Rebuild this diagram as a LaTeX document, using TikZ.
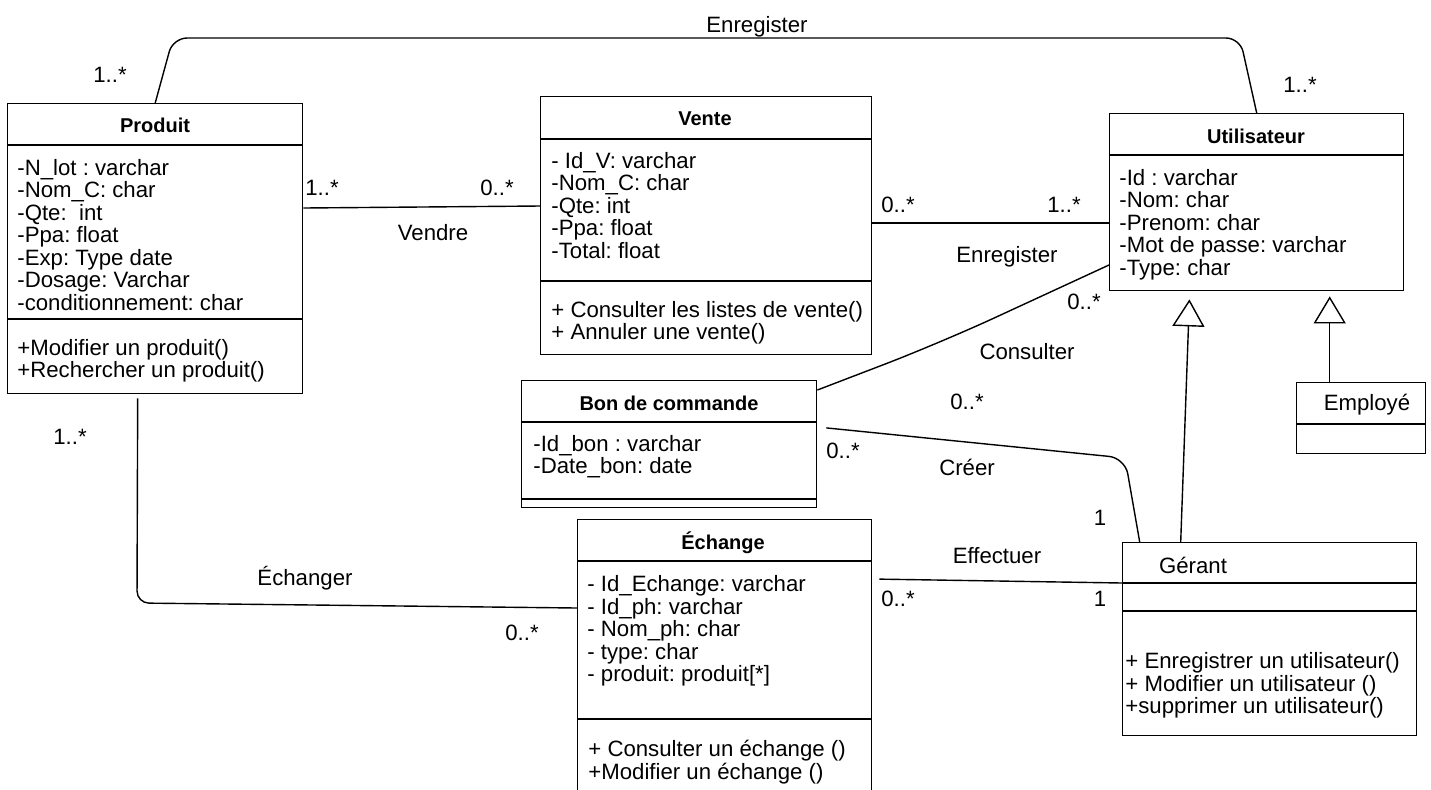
\documentclass[tikz,border=0pt]{standalone}
\usepackage{fontspec}
\setmainfont{Liberation Sans}
\usetikzlibrary{arrows.meta}

\newlength{\du}
\setlength{\du}{0.5pt}

\tikzset{
  classbox/.style={draw, rectangle, inner sep=0pt, anchor=north west, line width=1.4\du},
  classtitle/.style={font=\bfseries, inner sep=0pt},
  classname/.style={inner sep=0pt},
  members/.style={anchor=north west, align=left, inner sep=0pt},
  divider/.style={line width=1.4\du},
  assoc/.style={line width=1.4\du},
  multlabel/.style={inner sep=0pt},
  inherit/.style={line width=1.4\du, -{Triangle[open, length=13.5pt, width=16pt]}},
}

\begin{document}
\begin{tikzpicture}[font=\fontsize{11.1pt}{11.25pt}\selectfont\frenchspacing]
\pgftransformxscale{1.000000}
\pgftransformyscale{-1.000000}
\fill[white] (0\du,0\du) rectangle (1431\du,789\du);
\useasboundingbox (0\du,0\du) rectangle (1431\du,789\du);
% Produit
\node[classbox, minimum width=295\du, minimum height=290\du] (produit) at (7\du,103\du) {};
\node[classtitle] (produit-title) at (155\du,125\du) {Produit};
\draw[divider] (produit.west |- 0,145\du) -- (produit.east |- 0,145\du);
\draw[divider] (produit.west |- 0,319\du) -- (produit.east |- 0,319\du);
\node[members] (produit-attr) at (17\du,159\du) {-N\_lot : varchar\\-Nom\_C: char\\-Qte:\ \ int\\-Ppa: float\\-Exp: Type date\\-Dosage: Varchar\\-conditionnement: char};
\node[members] (produit-ops) at (17\du,339\du) {+Modifier un produit()\\+Rechercher un produit()};
% Vente
\node[classbox, minimum width=331\du, minimum height=258\du] (vente) at (540\du,96\du) {};
\node[classtitle] (vente-title) at (705\du,119\du) {Vente};
\draw[divider] (vente.west |- 0,139\du) -- (vente.east |- 0,139\du);
\draw[divider] (vente.west |- 0,281\du) -- (vente.east |- 0,281\du);
\node[members] (vente-attr) at (551\du,152\du) {- Id\_V: varchar\\-Nom\_C: char\\-Qte: int\\-Ppa: float\\-Total: float};
\node[members] (vente-ops) at (551\du,301\du) {+ Consulter les listes de vente()\\+ Annuler une vente()};
% Utilisateur
\node[classbox, minimum width=294\du, minimum height=177\du] (utilisateur) at (1109\du,113\du) {};
\node[classtitle] (utilisateur-title) at (1256\du,136\du) {Utilisateur};
\draw[divider] (utilisateur.west |- 0,155\du) -- (utilisateur.east |- 0,155\du);
\node[members] (utilisateur-attr) at (1119\du,169\du) {-Id : varchar\\-Nom: char\\-Prenom: char\\-Mot de passe: varchar\\-Type: char};
% Employe
\node[classbox, minimum width=129\du, minimum height=71\du] (employe) at (1296\du,382\du) {};
\node[classname] (employe-title) at (1367\du,405\du) {Employé};
\draw[divider] (employe.west |- 0,424\du) -- (employe.east |- 0,424\du);
% Bon de commande
\node[classbox, minimum width=295\du, minimum height=127\du] (boncmd) at (521\du,380\du) {};
\node[classtitle] (boncmd-title) at (669\du,403\du) {Bon de commande};
\draw[divider] (boncmd.west |- 0,422\du) -- (boncmd.east |- 0,422\du);
\draw[divider] (boncmd.west |- 0,499\du) -- (boncmd.east |- 0,499\du);
\node[members] (boncmd-attr) at (533\du,435\du) {-Id\_bon : varchar\\-Date\_bon: date};
% Echange
\node[classbox, minimum width=294\du, minimum height=290\du] (echange) at (577\du,519\du) {};
\node[classtitle] (echange-title) at (723\du,543\du) {Échange};
\draw[divider] (echange.west |- 0,561\du) -- (echange.east |- 0,561\du);
\draw[divider] (echange.west |- 0,719\du) -- (echange.east |- 0,719\du);
\node[members] (echange-attr) at (587\du,575\du) {- Id\_Echange: varchar\\- Id\_ph: varchar\\- Nom\_ph: char\\- type: char\\- produit: produit[*]};
\node[members] (echange-ops) at (588\du,740\du) {+ Consulter un échange ()\\+Modifier un échange ()};
% Gerant
\node[classbox, minimum width=294\du, minimum height=193\du] (gerant) at (1122\du,542\du) {};
\node[classname] (gerant-title) at (1193\du,565\du) {Gérant};
\draw[divider] (gerant.west |- 0,583\du) -- (gerant.east |- 0,583\du);
\draw[divider] (gerant.west |- 0,611\du) -- (gerant.east |- 0,611\du);
\node[members] (gerant-ops) at (1125\du,652\du) {+ Enregistrer un utilisateur()\\+ Modifier un utilisateur ()\\+supprimer un utilisateur()};
% associations
\draw[assoc, rounded corners=14\du] (produit.north) -- (173\du,38\du) -- (1240\du,38\du) -- (utilisateur.north);
\draw[assoc] (produit.east |- 0,208\du) -- (vente.west |- 0,206\du);
\draw[assoc] (vente.east |- 0,223\du) -- (utilisateur.west |- 0,223\du);
\draw[assoc, rounded corners=60\du] (boncmd.east |- 0,390\du) -- (940\du,343\du) -- (utilisateur.west |- 0,265\du);
\draw[assoc, shorten <=9\du, rounded corners=16\du] (boncmd.east |- 0,427\du) -- (1125\du,458\du) -- ([xshift=-130\du]gerant.north);
\draw[assoc, shorten <=7\du] (echange.east |- 0,579\du) -- (gerant.west |- 0,583\du);
\draw[assoc, shorten <=4\du, rounded corners=12\du] ([xshift=-17.5\du]produit.south) -- (137\du,603\du) -- (echange.west |- 0,608\du);
% generalisations
\draw[inherit, shorten >=8\du] ([xshift=-89\du]gerant.north) -- ([xshift=-67\du]utilisateur.south);
\draw[inherit, shorten >=5\du] ([xshift=-31.5\du]employe.north) -- ([xshift=73\du]utilisateur.south);
% labels
\node[multlabel] (enr-name) at (757\du,27\du) {Enregister};
\node[multlabel] (enr-prod) at (110\du,75\du) {1..*};
\node[multlabel] (enr-util) at (1300\du,85\du) {1..*};
\node[multlabel] (vendre-prod) at (322\du,188\du) {1..*};
\node[multlabel] (vendre-vente) at (497\du,188\du) {0..*};
\node[multlabel] (vendre-name) at (433\du,233\du) {Vendre};
\node[multlabel] (enrv-vente) at (898\du,205\du) {0..*};
\node[multlabel] (enrv-util) at (1064\du,205\du) {1..*};
\node[multlabel] (enrv-name) at (1007\du,257\du) {Enregister};
\node[multlabel] (cons-util) at (1084\du,302\du) {0..*};
\node[multlabel] (cons-name) at (1027\du,352\du) {Consulter};
\node[multlabel] (cons-bon) at (967\du,402\du) {0..*};
\node[multlabel] (creer-bon) at (843\du,451\du) {0..*};
\node[multlabel] (creer-name) at (967\du,467\du) {Créer};
\node[multlabel] (creer-ger) at (1100\du,518\du) {1};
\node[multlabel] (eff-name) at (997\du,556\du) {Effectuer};
\node[multlabel] (eff-ech) at (898\du,599\du) {0..*};
\node[multlabel] (eff-ger) at (1100\du,599\du) {1};
\node[multlabel] (ech-prod) at (70\du,437\du) {1..*};
\node[multlabel] (ech-name) at (305\du,578\du) {Échanger};
\node[multlabel] (ech-ech) at (522\du,633\du) {0..*};
\end{tikzpicture}
\end{document}
